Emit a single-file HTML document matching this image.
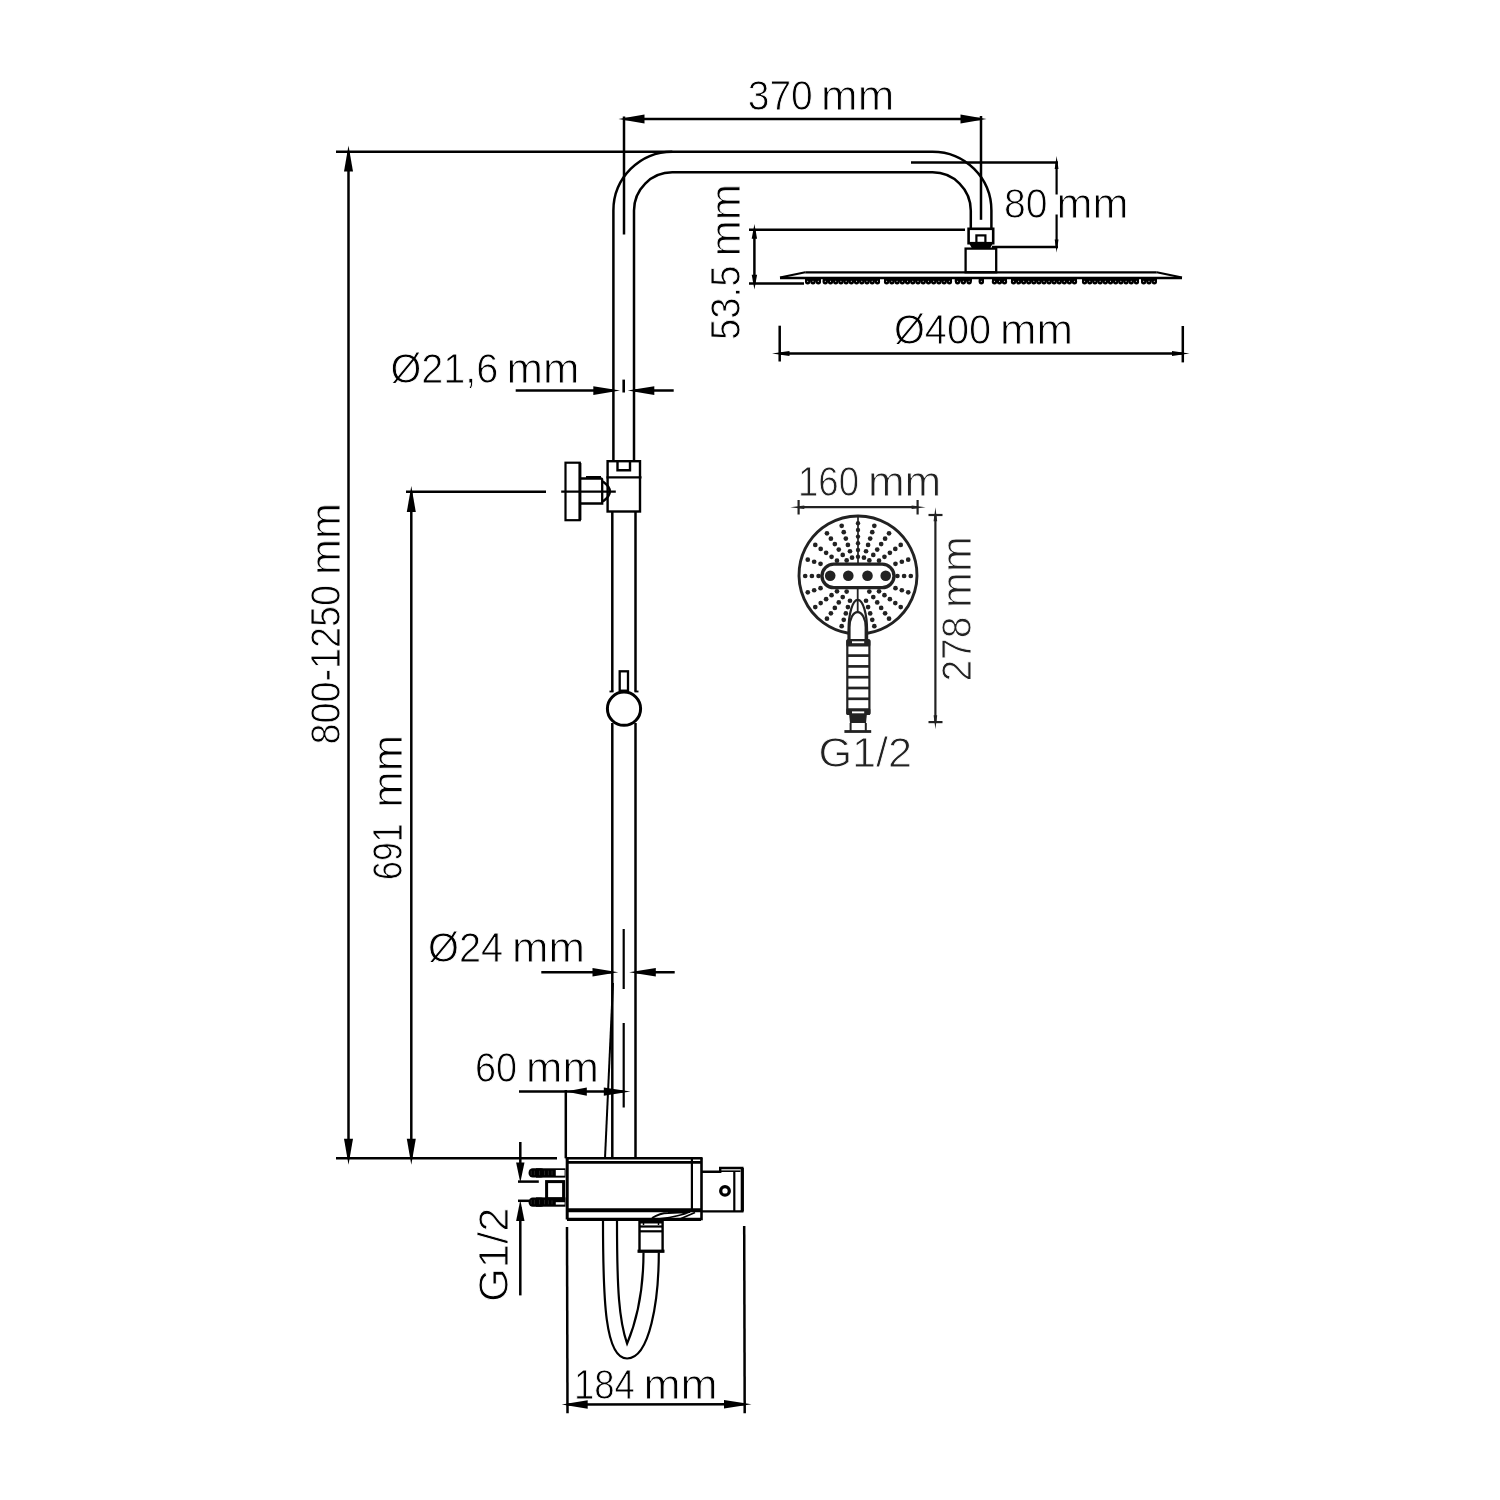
<!DOCTYPE html>
<html><head><meta charset="utf-8">
<style>
html,body{margin:0;padding:0;background:#fff;}
body{width:1500px;height:1500px;overflow:hidden;}
svg{display:block;filter:grayscale(1);}
text{font-family:"Liberation Sans",sans-serif;}
</style></head>
<body>
<svg width="1500" height="1500" viewBox="0 0 1500 1500">
<rect x="0" y="0" width="1500" height="1500" fill="#fff"/>
<line x1="336" y1="151.8" x2="672.3" y2="151.8" stroke="#000" stroke-width="2.5"/>
<line x1="348.5" y1="151.8" x2="348.5" y2="1158.3" stroke="#000" stroke-width="2.5"/>
<polygon points="348.5,145.5 344,171.5 353,171.5" fill="#000"/>
<polygon points="348.5,1164.7 344,1138.7 353,1138.7" fill="#000"/>
<line x1="336" y1="1158.3" x2="557" y2="1158.3" stroke="#000" stroke-width="2.5"/>
<line x1="406" y1="491.8" x2="546" y2="491.8" stroke="#000" stroke-width="2.5"/>
<line x1="411.3" y1="491.8" x2="411.3" y2="1158.3" stroke="#000" stroke-width="2.5"/>
<polygon points="411.3,486 406.8,512 415.8,512" fill="#000"/>
<polygon points="411.3,1164.7 406.8,1138.7 415.8,1138.7" fill="#000"/>
<path d="M 613.4 461 L 613.4 210.6 A 58.9 58.9 0 0 1 672.3 151.7 L 932.5 151.7 A 58.9 58.9 0 0 1 991.4 210.6 L 991.4 229" stroke="#000" stroke-width="2.5" fill="none" />
<path d="M 634 461 L 634 210.6 A 38.3 38.3 0 0 1 672.3 172.3 L 932.5 172.3 A 38.3 38.3 0 0 1 970.8 210.6 L 970.8 229" stroke="#000" stroke-width="2.5" fill="none" />
<line x1="624" y1="119" x2="981" y2="119" stroke="#000" stroke-width="2.5"/>
<polygon points="618.5,119 644.5,114.5 644.5,123.5" fill="#000"/>
<polygon points="986.5,119 960.5,114.5 960.5,123.5" fill="#000"/>
<line x1="624" y1="116.5" x2="624" y2="234.5" stroke="#000" stroke-width="2.5"/>
<line x1="981" y1="116" x2="981" y2="219.8" stroke="#000" stroke-width="2.5"/>
<line x1="911" y1="162.6" x2="1058" y2="162.6" stroke="#000" stroke-width="2.5"/>
<line x1="992" y1="247" x2="1058" y2="247" stroke="#000" stroke-width="2.5"/>
<line x1="1056.6" y1="162.6" x2="1056.6" y2="194.5" stroke="#000" stroke-width="2.2"/>
<line x1="1056.6" y1="214.5" x2="1056.6" y2="247" stroke="#000" stroke-width="2.2"/>
<polygon points="1056.6,156 1054.7,169 1058.5,169" fill="#000"/>
<polygon points="1056.6,252.5 1054.7,239.5 1058.5,239.5" fill="#000"/>
<rect x="968.6" y="228.8" width="24.6" height="14.4" rx="0" stroke="#000" stroke-width="2.6" fill="none"/>
<rect x="976.4" y="235.4" width="9" height="7.6" rx="0" stroke="#000" stroke-width="2.2" fill="none"/>
<polygon points="969,243 993,243 990,248.5 972,248.5" fill="#000"/>
<rect x="965.6" y="248.6" width="30.6" height="23.7" rx="0" stroke="#000" stroke-width="2.3" fill="none"/>
<line x1="805.3" y1="272.3" x2="1156.7" y2="272.3" stroke="#000" stroke-width="2.3"/>
<line x1="780" y1="278" x2="1182" y2="278" stroke="#000" stroke-width="2.6"/>
<line x1="805.3" y1="272.3" x2="780" y2="277.6" stroke="#000" stroke-width="2"/>
<line x1="1156.7" y1="272.3" x2="1182" y2="277.6" stroke="#000" stroke-width="2"/>
<rect x="805" y="277.6" width="16" height="4" rx="0" stroke="#000" stroke-width="0" fill="#000"/>
<circle cx="807.67" cy="281.8" r="2.7" fill="#000"/>
<circle cx="807.67" cy="281.3" r="0.55" fill="#fff"/>
<circle cx="813" cy="281.8" r="2.7" fill="#000"/>
<circle cx="813" cy="281.3" r="0.55" fill="#fff"/>
<circle cx="818.33" cy="281.8" r="2.7" fill="#000"/>
<circle cx="818.33" cy="281.3" r="0.55" fill="#fff"/>
<rect x="822.7" y="277.6" width="57.3" height="4" rx="0" stroke="#000" stroke-width="0" fill="#000"/>
<circle cx="825.3" cy="281.8" r="2.7" fill="#000"/>
<circle cx="825.3" cy="281.3" r="0.55" fill="#fff"/>
<circle cx="830.51" cy="281.8" r="2.7" fill="#000"/>
<circle cx="830.51" cy="281.3" r="0.55" fill="#fff"/>
<circle cx="835.72" cy="281.8" r="2.7" fill="#000"/>
<circle cx="835.72" cy="281.3" r="0.55" fill="#fff"/>
<circle cx="840.93" cy="281.8" r="2.7" fill="#000"/>
<circle cx="840.93" cy="281.3" r="0.55" fill="#fff"/>
<circle cx="846.14" cy="281.8" r="2.7" fill="#000"/>
<circle cx="846.14" cy="281.3" r="0.55" fill="#fff"/>
<circle cx="851.35" cy="281.8" r="2.7" fill="#000"/>
<circle cx="851.35" cy="281.3" r="0.55" fill="#fff"/>
<circle cx="856.56" cy="281.8" r="2.7" fill="#000"/>
<circle cx="856.56" cy="281.3" r="0.55" fill="#fff"/>
<circle cx="861.77" cy="281.8" r="2.7" fill="#000"/>
<circle cx="861.77" cy="281.3" r="0.55" fill="#fff"/>
<circle cx="866.98" cy="281.8" r="2.7" fill="#000"/>
<circle cx="866.98" cy="281.3" r="0.55" fill="#fff"/>
<circle cx="872.19" cy="281.8" r="2.7" fill="#000"/>
<circle cx="872.19" cy="281.3" r="0.55" fill="#fff"/>
<circle cx="877.4" cy="281.8" r="2.7" fill="#000"/>
<circle cx="877.4" cy="281.3" r="0.55" fill="#fff"/>
<rect x="884" y="277.6" width="68" height="4" rx="0" stroke="#000" stroke-width="0" fill="#000"/>
<circle cx="886.62" cy="281.8" r="2.7" fill="#000"/>
<circle cx="886.62" cy="281.3" r="0.55" fill="#fff"/>
<circle cx="891.85" cy="281.8" r="2.7" fill="#000"/>
<circle cx="891.85" cy="281.3" r="0.55" fill="#fff"/>
<circle cx="897.08" cy="281.8" r="2.7" fill="#000"/>
<circle cx="897.08" cy="281.3" r="0.55" fill="#fff"/>
<circle cx="902.31" cy="281.8" r="2.7" fill="#000"/>
<circle cx="902.31" cy="281.3" r="0.55" fill="#fff"/>
<circle cx="907.54" cy="281.8" r="2.7" fill="#000"/>
<circle cx="907.54" cy="281.3" r="0.55" fill="#fff"/>
<circle cx="912.77" cy="281.8" r="2.7" fill="#000"/>
<circle cx="912.77" cy="281.3" r="0.55" fill="#fff"/>
<circle cx="918" cy="281.8" r="2.7" fill="#000"/>
<circle cx="918" cy="281.3" r="0.55" fill="#fff"/>
<circle cx="923.23" cy="281.8" r="2.7" fill="#000"/>
<circle cx="923.23" cy="281.3" r="0.55" fill="#fff"/>
<circle cx="928.46" cy="281.8" r="2.7" fill="#000"/>
<circle cx="928.46" cy="281.3" r="0.55" fill="#fff"/>
<circle cx="933.69" cy="281.8" r="2.7" fill="#000"/>
<circle cx="933.69" cy="281.3" r="0.55" fill="#fff"/>
<circle cx="938.92" cy="281.8" r="2.7" fill="#000"/>
<circle cx="938.92" cy="281.3" r="0.55" fill="#fff"/>
<circle cx="944.15" cy="281.8" r="2.7" fill="#000"/>
<circle cx="944.15" cy="281.3" r="0.55" fill="#fff"/>
<circle cx="949.38" cy="281.8" r="2.7" fill="#000"/>
<circle cx="949.38" cy="281.3" r="0.55" fill="#fff"/>
<rect x="954.7" y="277.6" width="17.3" height="4" rx="0" stroke="#000" stroke-width="0" fill="#000"/>
<circle cx="957.58" cy="281.8" r="2.7" fill="#000"/>
<circle cx="957.58" cy="281.3" r="0.55" fill="#fff"/>
<circle cx="963.35" cy="281.8" r="2.7" fill="#000"/>
<circle cx="963.35" cy="281.3" r="0.55" fill="#fff"/>
<circle cx="969.12" cy="281.8" r="2.7" fill="#000"/>
<circle cx="969.12" cy="281.3" r="0.55" fill="#fff"/>
<rect x="978.7" y="277.6" width="5.3" height="4" rx="0" stroke="#000" stroke-width="0" fill="#000"/>
<circle cx="981.35" cy="281.8" r="2.7" fill="#000"/>
<circle cx="981.35" cy="281.3" r="0.55" fill="#fff"/>
<rect x="992" y="277.6" width="15" height="4" rx="0" stroke="#000" stroke-width="0" fill="#000"/>
<circle cx="994.5" cy="281.8" r="2.7" fill="#000"/>
<circle cx="994.5" cy="281.3" r="0.55" fill="#fff"/>
<circle cx="999.5" cy="281.8" r="2.7" fill="#000"/>
<circle cx="999.5" cy="281.3" r="0.55" fill="#fff"/>
<circle cx="1004.5" cy="281.8" r="2.7" fill="#000"/>
<circle cx="1004.5" cy="281.3" r="0.55" fill="#fff"/>
<rect x="1011" y="277.6" width="66" height="4" rx="0" stroke="#000" stroke-width="0" fill="#000"/>
<circle cx="1013.54" cy="281.8" r="2.7" fill="#000"/>
<circle cx="1013.54" cy="281.3" r="0.55" fill="#fff"/>
<circle cx="1018.62" cy="281.8" r="2.7" fill="#000"/>
<circle cx="1018.62" cy="281.3" r="0.55" fill="#fff"/>
<circle cx="1023.69" cy="281.8" r="2.7" fill="#000"/>
<circle cx="1023.69" cy="281.3" r="0.55" fill="#fff"/>
<circle cx="1028.77" cy="281.8" r="2.7" fill="#000"/>
<circle cx="1028.77" cy="281.3" r="0.55" fill="#fff"/>
<circle cx="1033.85" cy="281.8" r="2.7" fill="#000"/>
<circle cx="1033.85" cy="281.3" r="0.55" fill="#fff"/>
<circle cx="1038.92" cy="281.8" r="2.7" fill="#000"/>
<circle cx="1038.92" cy="281.3" r="0.55" fill="#fff"/>
<circle cx="1044" cy="281.8" r="2.7" fill="#000"/>
<circle cx="1044" cy="281.3" r="0.55" fill="#fff"/>
<circle cx="1049.08" cy="281.8" r="2.7" fill="#000"/>
<circle cx="1049.08" cy="281.3" r="0.55" fill="#fff"/>
<circle cx="1054.15" cy="281.8" r="2.7" fill="#000"/>
<circle cx="1054.15" cy="281.3" r="0.55" fill="#fff"/>
<circle cx="1059.23" cy="281.8" r="2.7" fill="#000"/>
<circle cx="1059.23" cy="281.3" r="0.55" fill="#fff"/>
<circle cx="1064.31" cy="281.8" r="2.7" fill="#000"/>
<circle cx="1064.31" cy="281.3" r="0.55" fill="#fff"/>
<circle cx="1069.38" cy="281.8" r="2.7" fill="#000"/>
<circle cx="1069.38" cy="281.3" r="0.55" fill="#fff"/>
<circle cx="1074.46" cy="281.8" r="2.7" fill="#000"/>
<circle cx="1074.46" cy="281.3" r="0.55" fill="#fff"/>
<rect x="1082" y="277.6" width="57" height="4" rx="0" stroke="#000" stroke-width="0" fill="#000"/>
<circle cx="1084.59" cy="281.8" r="2.7" fill="#000"/>
<circle cx="1084.59" cy="281.3" r="0.55" fill="#fff"/>
<circle cx="1089.77" cy="281.8" r="2.7" fill="#000"/>
<circle cx="1089.77" cy="281.3" r="0.55" fill="#fff"/>
<circle cx="1094.95" cy="281.8" r="2.7" fill="#000"/>
<circle cx="1094.95" cy="281.3" r="0.55" fill="#fff"/>
<circle cx="1100.14" cy="281.8" r="2.7" fill="#000"/>
<circle cx="1100.14" cy="281.3" r="0.55" fill="#fff"/>
<circle cx="1105.32" cy="281.8" r="2.7" fill="#000"/>
<circle cx="1105.32" cy="281.3" r="0.55" fill="#fff"/>
<circle cx="1110.5" cy="281.8" r="2.7" fill="#000"/>
<circle cx="1110.5" cy="281.3" r="0.55" fill="#fff"/>
<circle cx="1115.68" cy="281.8" r="2.7" fill="#000"/>
<circle cx="1115.68" cy="281.3" r="0.55" fill="#fff"/>
<circle cx="1120.86" cy="281.8" r="2.7" fill="#000"/>
<circle cx="1120.86" cy="281.3" r="0.55" fill="#fff"/>
<circle cx="1126.05" cy="281.8" r="2.7" fill="#000"/>
<circle cx="1126.05" cy="281.3" r="0.55" fill="#fff"/>
<circle cx="1131.23" cy="281.8" r="2.7" fill="#000"/>
<circle cx="1131.23" cy="281.3" r="0.55" fill="#fff"/>
<circle cx="1136.41" cy="281.8" r="2.7" fill="#000"/>
<circle cx="1136.41" cy="281.3" r="0.55" fill="#fff"/>
<rect x="1141" y="277.6" width="16" height="4" rx="0" stroke="#000" stroke-width="0" fill="#000"/>
<circle cx="1143.67" cy="281.8" r="2.7" fill="#000"/>
<circle cx="1143.67" cy="281.3" r="0.55" fill="#fff"/>
<circle cx="1149" cy="281.8" r="2.7" fill="#000"/>
<circle cx="1149" cy="281.3" r="0.55" fill="#fff"/>
<circle cx="1154.33" cy="281.8" r="2.7" fill="#000"/>
<circle cx="1154.33" cy="281.3" r="0.55" fill="#fff"/>
<line x1="749" y1="229.7" x2="965" y2="229.7" stroke="#000" stroke-width="2.5"/>
<line x1="749" y1="283.6" x2="804" y2="283.6" stroke="#000" stroke-width="2.5"/>
<line x1="754.4" y1="229.7" x2="754.4" y2="283.6" stroke="#000" stroke-width="2.5"/>
<polygon points="754.4,224 751.7,238.8 757.1,238.8" fill="#000"/>
<polygon points="754.4,289.5 751.7,274.7 757.1,274.7" fill="#000"/>
<line x1="779.7" y1="325.7" x2="779.7" y2="361.5" stroke="#000" stroke-width="2.5"/>
<line x1="1182.8" y1="326" x2="1182.8" y2="362.4" stroke="#000" stroke-width="2.5"/>
<line x1="779.7" y1="353.4" x2="1182.8" y2="353.4" stroke="#000" stroke-width="2.5"/>
<polygon points="772,353.4 789.5,350.9 789.5,355.9" fill="#000"/>
<polygon points="1189.5,353.4 1172,350.9 1172,355.9" fill="#000"/>
<rect x="607.6" y="461.2" width="32.4" height="50.3" rx="0" stroke="#000" stroke-width="2.4" fill="none"/>
<line x1="606.5" y1="477.4" x2="641.5" y2="477.4" stroke="#000" stroke-width="2.4"/>
<path d="M 617.5 461.5 L 617.5 470.3 L 630 470.3 L 630 461.5" stroke="#000" stroke-width="2.4" fill="none" />
<rect x="565.5" y="462.7" width="14.3" height="57.5" rx="0" stroke="#000" stroke-width="2.2" fill="none"/>
<path d="M 580.7 478.5 L 600.8 478.5 Q 602.2 478.5 602.2 480 L 602.2 503.5 L 580.7 503.5" stroke="#000" stroke-width="2.3" fill="none" />
<line x1="586" y1="477.3" x2="601" y2="477.3" stroke="#000" stroke-width="2.6"/>
<line x1="580" y1="463" x2="580" y2="520" stroke="#000" stroke-width="2.8"/>
<path d="M 602.8 481.6 Q 617 491.6 602.8 501.5" stroke="#000" stroke-width="2.4" fill="none" />
<line x1="561.2" y1="491.6" x2="615.8" y2="491.6" stroke="#000" stroke-width="2.2"/>
<line x1="612.3" y1="511.5" x2="612.3" y2="691.5" stroke="#000" stroke-width="2.5"/>
<line x1="635.5" y1="511.5" x2="635.5" y2="691.5" stroke="#000" stroke-width="2.5"/>
<line x1="612.3" y1="723" x2="612.3" y2="1158.3" stroke="#000" stroke-width="2.5"/>
<line x1="635.5" y1="723" x2="635.5" y2="1158.3" stroke="#000" stroke-width="2.5"/>
<circle cx="624" cy="708.7" r="16.6" stroke="#000" stroke-width="3" fill="#fff"/>
<rect x="619.7" y="671.3" width="8.3" height="19.4" rx="0" stroke="#000" stroke-width="2.3" fill="none"/>
<line x1="609.5" y1="691.5" x2="613.5" y2="691.5" stroke="#000" stroke-width="1.8"/>
<line x1="634.5" y1="691.5" x2="638.5" y2="691.5" stroke="#000" stroke-width="1.8"/>
<line x1="515.7" y1="390.6" x2="613.4" y2="390.6" stroke="#000" stroke-width="2.5"/>
<polygon points="620,390.6 593.3,386.25 593.3,394.95" fill="#000"/>
<line x1="634.4" y1="390.6" x2="673.7" y2="390.6" stroke="#000" stroke-width="2.5"/>
<polygon points="627.7,390.6 654.3,386.25 654.3,394.95" fill="#000"/>
<line x1="623.7" y1="379.6" x2="623.7" y2="392.5" stroke="#000" stroke-width="2.6"/>
<line x1="541.3" y1="972.3" x2="612.5" y2="972.3" stroke="#000" stroke-width="2.5"/>
<polygon points="618.3,972.3 592.5,968.1 592.5,976.5" fill="#000"/>
<line x1="635.3" y1="972.3" x2="674.7" y2="972.3" stroke="#000" stroke-width="2.5"/>
<polygon points="629.2,972.3 655.8,968.1 655.8,976.5" fill="#000"/>
<line x1="623.7" y1="929" x2="623.7" y2="989" stroke="#000" stroke-width="2.2"/>
<line x1="623.7" y1="1023" x2="623.7" y2="1107.5" stroke="#000" stroke-width="2.2"/>
<line x1="613" y1="983" x2="605" y2="1158.3" stroke="#000" stroke-width="2"/>
<line x1="519" y1="1091.6" x2="623.7" y2="1091.6" stroke="#000" stroke-width="2.5"/>
<polygon points="565.8,1091.6 586.8,1087.4 586.8,1095.8" fill="#000"/>
<polygon points="630.4,1091.6 603.8,1087.4 603.8,1095.8" fill="#000"/>
<line x1="565.8" y1="1090" x2="565.8" y2="1158.3" stroke="#000" stroke-width="2.5"/>
<line x1="565.8" y1="1158.3" x2="702.3" y2="1158.3" stroke="#000" stroke-width="2.4"/>
<line x1="566" y1="1162.4" x2="701" y2="1162.4" stroke="#000" stroke-width="2.6"/>
<line x1="567.2" y1="1158" x2="567.2" y2="1219.5" stroke="#000" stroke-width="3"/>
<line x1="701.5" y1="1157.5" x2="701.5" y2="1220.3" stroke="#000" stroke-width="2.6"/>
<line x1="691.9" y1="1158.5" x2="691.9" y2="1209" stroke="#000" stroke-width="2.2"/>
<line x1="567" y1="1210.3" x2="701" y2="1210.3" stroke="#000" stroke-width="4"/>
<line x1="567" y1="1219.3" x2="701" y2="1219.3" stroke="#000" stroke-width="3.2"/>
<path d="M 652 1218 Q 660 1213 668 1213 L 690 1212 Q 680 1216 660 1219" stroke="#000" stroke-width="1.8" fill="none" />
<path d="M 680 1219 L 695 1212.5" stroke="#000" stroke-width="1.8" fill="none" />
<path d="M 701.5 1171.7 L 720.2 1171.7 L 720.2 1168 L 742.3 1168 L 742.3 1211.4 L 701.5 1211.4" stroke="#000" stroke-width="2.4" fill="none" />
<line x1="742.3" y1="1168" x2="742.3" y2="1211.4" stroke="#000" stroke-width="3.2"/>
<line x1="734.3" y1="1172" x2="734.3" y2="1211" stroke="#000" stroke-width="2.2"/>
<line x1="721" y1="1171.2" x2="740.5" y2="1171.2" stroke="#000" stroke-width="1.6"/>
<circle cx="725" cy="1190.9" r="4.3" stroke="#000" stroke-width="3.3" fill="none"/>
<rect x="528.6" y="1168.3" width="16.4" height="9.3" rx="4.2" stroke="#000" stroke-width="0" fill="#000"/>
<rect x="536" y="1168.3" width="29.5" height="9.3" rx="0" stroke="#000" stroke-width="0" fill="#000"/>
<rect x="555.8" y="1170" width="8.8" height="5.7" rx="0" stroke="#000" stroke-width="0" fill="#fff"/>
<line x1="531.2" y1="1170.7" x2="531.2" y2="1175.2" stroke="#3a3a3a" stroke-width="0.6"/>
<line x1="534.4" y1="1170.7" x2="534.4" y2="1175.2" stroke="#3a3a3a" stroke-width="0.6"/>
<line x1="539.5" y1="1170.7" x2="539.5" y2="1175.2" stroke="#3a3a3a" stroke-width="0.6"/>
<line x1="544.5" y1="1170.7" x2="544.5" y2="1175.2" stroke="#3a3a3a" stroke-width="0.6"/>
<line x1="548.4" y1="1170.7" x2="548.4" y2="1175.2" stroke="#3a3a3a" stroke-width="0.6"/>
<line x1="552" y1="1170.7" x2="552" y2="1175.2" stroke="#3a3a3a" stroke-width="0.6"/>
<rect x="528.6" y="1197.4" width="16.4" height="9.3" rx="4.2" stroke="#000" stroke-width="0" fill="#000"/>
<rect x="536" y="1197.4" width="29.5" height="9.3" rx="0" stroke="#000" stroke-width="0" fill="#000"/>
<rect x="555.8" y="1202.2" width="8.8" height="2.4" rx="0" stroke="#000" stroke-width="0" fill="#fff"/>
<line x1="531.2" y1="1199.8" x2="531.2" y2="1204.3" stroke="#3a3a3a" stroke-width="0.6"/>
<line x1="534.4" y1="1199.8" x2="534.4" y2="1204.3" stroke="#3a3a3a" stroke-width="0.6"/>
<line x1="539.5" y1="1199.8" x2="539.5" y2="1204.3" stroke="#3a3a3a" stroke-width="0.6"/>
<line x1="544.5" y1="1199.8" x2="544.5" y2="1204.3" stroke="#3a3a3a" stroke-width="0.6"/>
<line x1="548.4" y1="1199.8" x2="548.4" y2="1204.3" stroke="#3a3a3a" stroke-width="0.6"/>
<line x1="552" y1="1199.8" x2="552" y2="1204.3" stroke="#3a3a3a" stroke-width="0.6"/>
<rect x="546.6" y="1181.6" width="17" height="17.2" rx="0" stroke="#000" stroke-width="3" fill="none"/>
<line x1="564" y1="1181" x2="564" y2="1200" stroke="#000" stroke-width="1.2"/>
<rect x="639.5" y="1221.5" width="23.1" height="29.7" rx="0" stroke="#000" stroke-width="2.4" fill="none"/>
<line x1="639.5" y1="1222.6" x2="662.6" y2="1222.6" stroke="#000" stroke-width="1.8"/>
<line x1="639.5" y1="1226.5" x2="662.6" y2="1226.5" stroke="#000" stroke-width="2.2"/>
<line x1="639.5" y1="1231.3" x2="662.6" y2="1231.3" stroke="#000" stroke-width="2.2"/>
<line x1="637.5" y1="1251.2" x2="664.5" y2="1251.2" stroke="#000" stroke-width="3.2"/>
<line x1="643.5" y1="1221" x2="643.5" y2="1225" stroke="#000" stroke-width="1.5"/>
<line x1="658.5" y1="1221" x2="658.5" y2="1225" stroke="#000" stroke-width="1.5"/>
<path d="M 603 1221 C 603 1300 605 1358.5 627.1 1358.5 C 650 1358.5 658.8 1300 658.8 1252.5" stroke="#000" stroke-width="2.2" fill="none" />
<path d="M 617 1221 C 617 1290 619 1320 627.1 1343.6 C 637 1320 643.5 1290 643.5 1252.5" stroke="#000" stroke-width="2.2" fill="none" />
<line x1="567" y1="1227" x2="567.5" y2="1413.3" stroke="#000" stroke-width="2.5"/>
<line x1="744.2" y1="1226" x2="744.7" y2="1413.3" stroke="#000" stroke-width="2.5"/>
<line x1="567.3" y1="1404.5" x2="744.6" y2="1404.3" stroke="#000" stroke-width="2.5"/>
<polygon points="561.7,1404.5 587.7,1400.2 587.7,1408.8" fill="#000"/>
<polygon points="751.5,1404.3 724,1400 724,1408.6" fill="#000"/>
<line x1="520.3" y1="1142" x2="520.3" y2="1175" stroke="#000" stroke-width="2.5"/>
<polygon points="520.3,1182.5 516.1,1162.5 524.5,1162.5" fill="#000"/>
<line x1="520.3" y1="1207" x2="520.3" y2="1295.4" stroke="#000" stroke-width="2.5"/>
<polygon points="520.3,1200 516.1,1221 524.5,1221" fill="#000"/>
<line x1="518" y1="1181.6" x2="538.8" y2="1181.6" stroke="#000" stroke-width="2.5"/>
<line x1="518" y1="1200.8" x2="529" y2="1200.8" stroke="#000" stroke-width="2.5"/>
<line x1="798.6" y1="507.2" x2="917.6" y2="507.2" stroke="#222" stroke-width="2.2"/>
<line x1="798.6" y1="500" x2="798.6" y2="514.5" stroke="#222" stroke-width="2.2"/>
<line x1="917.6" y1="500" x2="917.6" y2="514.5" stroke="#222" stroke-width="2.2"/>
<polygon points="790.3,507.2 804.3,505.4 804.3,509" fill="#222"/>
<polygon points="925.6,507.2 911.6,505.4 911.6,509" fill="#222"/>
<line x1="935.4" y1="515" x2="935.4" y2="722.1" stroke="#222" stroke-width="2.2"/>
<line x1="928.5" y1="515" x2="942.5" y2="515" stroke="#222" stroke-width="2.2"/>
<line x1="928.5" y1="722.1" x2="942.5" y2="722.1" stroke="#222" stroke-width="2.2"/>
<polygon points="935.4,507.3 933.6,521.3 937.2,521.3" fill="#222"/>
<polygon points="935.4,729.2 933.6,715.2 937.2,715.2" fill="#222"/>
<circle cx="863.96" cy="557.64" r="2.35" fill="#222"/>
<circle cx="866.03" cy="551.27" r="2.35" fill="#222"/>
<circle cx="868.1" cy="544.9" r="2.35" fill="#222"/>
<circle cx="870.18" cy="538.53" r="2.35" fill="#222"/>
<circle cx="872.25" cy="532.16" r="2.35" fill="#222"/>
<circle cx="874.32" cy="525.78" r="2.35" fill="#222"/>
<circle cx="869.34" cy="560.39" r="2.35" fill="#222"/>
<circle cx="873.28" cy="554.97" r="2.35" fill="#222"/>
<circle cx="877.22" cy="549.55" r="2.35" fill="#222"/>
<circle cx="881.16" cy="544.12" r="2.35" fill="#222"/>
<circle cx="885.1" cy="538.7" r="2.35" fill="#222"/>
<circle cx="889.04" cy="533.28" r="2.35" fill="#222"/>
<circle cx="879.03" cy="560.72" r="2.35" fill="#222"/>
<circle cx="884.45" cy="556.78" r="2.35" fill="#222"/>
<circle cx="889.88" cy="552.84" r="2.35" fill="#222"/>
<circle cx="895.3" cy="548.9" r="2.35" fill="#222"/>
<circle cx="900.72" cy="544.96" r="2.35" fill="#222"/>
<circle cx="895.47" cy="563.82" r="2.35" fill="#222"/>
<circle cx="901.84" cy="561.75" r="2.35" fill="#222"/>
<circle cx="908.22" cy="559.68" r="2.35" fill="#222"/>
<circle cx="897.4" cy="576" r="2.35" fill="#222"/>
<circle cx="904.1" cy="576" r="2.35" fill="#222"/>
<circle cx="910.8" cy="576" r="2.35" fill="#222"/>
<circle cx="895.47" cy="588.18" r="2.35" fill="#222"/>
<circle cx="901.84" cy="590.25" r="2.35" fill="#222"/>
<circle cx="908.22" cy="592.32" r="2.35" fill="#222"/>
<circle cx="879.03" cy="591.28" r="2.35" fill="#222"/>
<circle cx="884.45" cy="595.22" r="2.35" fill="#222"/>
<circle cx="889.88" cy="599.16" r="2.35" fill="#222"/>
<circle cx="895.3" cy="603.1" r="2.35" fill="#222"/>
<circle cx="900.72" cy="607.04" r="2.35" fill="#222"/>
<circle cx="869.34" cy="591.61" r="2.35" fill="#222"/>
<circle cx="873.28" cy="597.03" r="2.35" fill="#222"/>
<circle cx="877.22" cy="602.45" r="2.35" fill="#222"/>
<circle cx="881.16" cy="607.88" r="2.35" fill="#222"/>
<circle cx="885.1" cy="613.3" r="2.35" fill="#222"/>
<circle cx="889.04" cy="618.72" r="2.35" fill="#222"/>
<circle cx="866.03" cy="600.73" r="2.35" fill="#222"/>
<circle cx="868.1" cy="607.1" r="2.35" fill="#222"/>
<circle cx="870.18" cy="613.47" r="2.35" fill="#222"/>
<circle cx="872.25" cy="619.84" r="2.35" fill="#222"/>
<circle cx="874.32" cy="626.22" r="2.35" fill="#222"/>
<circle cx="849.97" cy="600.73" r="2.35" fill="#222"/>
<circle cx="847.9" cy="607.1" r="2.35" fill="#222"/>
<circle cx="845.82" cy="613.47" r="2.35" fill="#222"/>
<circle cx="843.75" cy="619.84" r="2.35" fill="#222"/>
<circle cx="841.68" cy="626.22" r="2.35" fill="#222"/>
<circle cx="846.66" cy="591.61" r="2.35" fill="#222"/>
<circle cx="842.72" cy="597.03" r="2.35" fill="#222"/>
<circle cx="838.78" cy="602.45" r="2.35" fill="#222"/>
<circle cx="834.84" cy="607.88" r="2.35" fill="#222"/>
<circle cx="830.9" cy="613.3" r="2.35" fill="#222"/>
<circle cx="826.96" cy="618.72" r="2.35" fill="#222"/>
<circle cx="836.97" cy="591.28" r="2.35" fill="#222"/>
<circle cx="831.55" cy="595.22" r="2.35" fill="#222"/>
<circle cx="826.12" cy="599.16" r="2.35" fill="#222"/>
<circle cx="820.7" cy="603.1" r="2.35" fill="#222"/>
<circle cx="815.28" cy="607.04" r="2.35" fill="#222"/>
<circle cx="820.53" cy="588.18" r="2.35" fill="#222"/>
<circle cx="814.16" cy="590.25" r="2.35" fill="#222"/>
<circle cx="807.78" cy="592.32" r="2.35" fill="#222"/>
<circle cx="818.6" cy="576" r="2.35" fill="#222"/>
<circle cx="811.9" cy="576" r="2.35" fill="#222"/>
<circle cx="805.2" cy="576" r="2.35" fill="#222"/>
<circle cx="820.53" cy="563.82" r="2.35" fill="#222"/>
<circle cx="814.16" cy="561.75" r="2.35" fill="#222"/>
<circle cx="807.78" cy="559.68" r="2.35" fill="#222"/>
<circle cx="836.97" cy="560.72" r="2.35" fill="#222"/>
<circle cx="831.55" cy="556.78" r="2.35" fill="#222"/>
<circle cx="826.12" cy="552.84" r="2.35" fill="#222"/>
<circle cx="820.7" cy="548.9" r="2.35" fill="#222"/>
<circle cx="815.28" cy="544.96" r="2.35" fill="#222"/>
<circle cx="846.66" cy="560.39" r="2.35" fill="#222"/>
<circle cx="842.72" cy="554.97" r="2.35" fill="#222"/>
<circle cx="838.78" cy="549.55" r="2.35" fill="#222"/>
<circle cx="834.84" cy="544.12" r="2.35" fill="#222"/>
<circle cx="830.9" cy="538.7" r="2.35" fill="#222"/>
<circle cx="826.96" cy="533.28" r="2.35" fill="#222"/>
<circle cx="852.04" cy="557.64" r="2.35" fill="#222"/>
<circle cx="849.97" cy="551.27" r="2.35" fill="#222"/>
<circle cx="847.9" cy="544.9" r="2.35" fill="#222"/>
<circle cx="845.82" cy="538.53" r="2.35" fill="#222"/>
<circle cx="843.75" cy="532.16" r="2.35" fill="#222"/>
<circle cx="841.68" cy="525.78" r="2.35" fill="#222"/>
<line x1="858" y1="517" x2="858" y2="563" stroke="#222" stroke-width="1.7"/>
<circle cx="858" cy="556.7" r="2.2" fill="#222"/>
<circle cx="858" cy="550" r="2.2" fill="#222"/>
<circle cx="858" cy="543.3" r="2.2" fill="#222"/>
<circle cx="858" cy="536.6" r="2.2" fill="#222"/>
<circle cx="858" cy="529.9" r="2.2" fill="#222"/>
<circle cx="858" cy="523.2" r="2.2" fill="#222"/>
<path d="M 848.6 633.25 A 59 59 0 1 1 867.4 633.25" stroke="#222" stroke-width="2.9" fill="none" />
<rect x="822" y="564.1" width="72" height="23.6" rx="11.8" stroke="#222" stroke-width="3.3" fill="#fff"/>
<circle cx="830.2" cy="575.8" r="5.3" fill="#222"/>
<circle cx="848.3" cy="575.8" r="5.3" fill="#222"/>
<circle cx="867.5" cy="575.8" r="5.3" fill="#222"/>
<circle cx="885.7" cy="575.8" r="5.3" fill="#222"/>
<path d="M 848.5 639.5 L 848.5 630.8 A 9.3 31 0 0 1 867.1 630.8 L 867.1 639.5" stroke="#222" stroke-width="2.2" fill="#fff" />
<path d="M 849.5 639.5 L 849.5 627.2 A 8.1 15 0 0 1 865.7 627.2 L 865.7 639.5" stroke="#222" stroke-width="2.2" fill="none" />
<line x1="857.7" y1="588" x2="857.7" y2="612.2" stroke="#222" stroke-width="1.8"/>
<rect x="847.3" y="640.2" width="22.1" height="73.8" rx="1.5" stroke="#222" stroke-width="2.2" fill="#fff"/>
<rect x="846.3" y="639.2" width="24.1" height="7.2" rx="1.5" stroke="#222" stroke-width="0" fill="#222"/>
<rect x="852" y="641.3" width="12.2" height="1.9" rx="0" stroke="#222" stroke-width="0" fill="#fff"/>
<line x1="847.2" y1="655.6" x2="869.4" y2="655.6" stroke="#222" stroke-width="2.7"/>
<line x1="847.2" y1="666.4" x2="869.4" y2="666.4" stroke="#222" stroke-width="2.7"/>
<line x1="847.2" y1="677.2" x2="869.4" y2="677.2" stroke="#222" stroke-width="2.7"/>
<line x1="847.2" y1="688" x2="869.4" y2="688" stroke="#222" stroke-width="2.7"/>
<line x1="847.2" y1="698.8" x2="869.4" y2="698.8" stroke="#222" stroke-width="2.7"/>
<rect x="846.3" y="708.2" width="24.1" height="6.8" rx="1.5" stroke="#222" stroke-width="0" fill="#222"/>
<rect x="852" y="711.4" width="12.2" height="1.9" rx="0" stroke="#222" stroke-width="0" fill="#fff"/>
<polygon points="849.2,715 866.8,715 866,723 850,723" fill="#222"/>
<path d="M 850.6 723 L 850.6 731 M 865.8 723 L 865.8 731" stroke="#222" stroke-width="2" fill="none" />
<line x1="844.4" y1="731.5" x2="871.2" y2="731.5" stroke="#222" stroke-width="2.8"/>
<text x="747.7" y="110.4" font-size="42" fill="#000" stroke="#fff" stroke-width="0.9" textLength="65.1" lengthAdjust="spacingAndGlyphs">370</text>
<text x="821.1" y="110.4" font-size="42" fill="#000" stroke="#fff" stroke-width="0.9" textLength="73.1" lengthAdjust="spacingAndGlyphs">mm</text>
<text x="1004" y="218.4" font-size="42" fill="#000" stroke="#fff" stroke-width="0.9" textLength="43.5" lengthAdjust="spacingAndGlyphs">80</text>
<text x="1056.5" y="218.4" font-size="42" fill="#000" stroke="#fff" stroke-width="0.9" textLength="72" lengthAdjust="spacingAndGlyphs">mm</text>
<text x="893.9" y="344.4" font-size="42" fill="#000" stroke="#fff" stroke-width="0.9" textLength="97.2" lengthAdjust="spacingAndGlyphs">Ø400</text>
<text x="1000.1" y="344.4" font-size="42" fill="#000" stroke="#fff" stroke-width="0.9" textLength="73" lengthAdjust="spacingAndGlyphs">mm</text>
<text x="390.4" y="382.5" font-size="42" fill="#000" stroke="#fff" stroke-width="0.9" textLength="107.9" lengthAdjust="spacingAndGlyphs">Ø21,6</text>
<text x="506.6" y="382.5" font-size="42" fill="#000" stroke="#fff" stroke-width="0.9" textLength="72.9" lengthAdjust="spacingAndGlyphs">mm</text>
<text x="428" y="962.4" font-size="42" fill="#000" stroke="#fff" stroke-width="0.9" textLength="75.1" lengthAdjust="spacingAndGlyphs">Ø24</text>
<text x="512.1" y="962.4" font-size="42" fill="#000" stroke="#fff" stroke-width="0.9" textLength="72.9" lengthAdjust="spacingAndGlyphs">mm</text>
<text x="475" y="1081.7" font-size="42" fill="#000" stroke="#fff" stroke-width="0.9" textLength="42.1" lengthAdjust="spacingAndGlyphs">60</text>
<text x="526.1" y="1081.7" font-size="42" fill="#000" stroke="#fff" stroke-width="0.9" textLength="72.8" lengthAdjust="spacingAndGlyphs">mm</text>
<text x="574" y="1399.3" font-size="42" fill="#000" stroke="#fff" stroke-width="0.9" textLength="60.9" lengthAdjust="spacingAndGlyphs">184</text>
<text x="643.4" y="1399.3" font-size="42" fill="#000" stroke="#fff" stroke-width="0.9" textLength="74.2" lengthAdjust="spacingAndGlyphs">mm</text>
<text x="798" y="496.3" font-size="42" fill="#222" stroke="#fff" stroke-width="0.9" textLength="61" lengthAdjust="spacingAndGlyphs">160</text>
<text x="867.9" y="496.3" font-size="42" fill="#222" stroke="#fff" stroke-width="0.9" textLength="73.4" lengthAdjust="spacingAndGlyphs">mm</text>
<text x="818.4" y="767.4" font-size="42" fill="#222" stroke="#fff" stroke-width="0.9" textLength="93.6" lengthAdjust="spacingAndGlyphs">G1/2</text>
<text transform="translate(740 340.1) rotate(-90)" x="0" y="0" font-size="42" fill="#000" stroke="#fff" stroke-width="0.9" textLength="74.6" lengthAdjust="spacingAndGlyphs">53.5</text>
<text transform="translate(740 256.4) rotate(-90)" x="0" y="0" font-size="42" fill="#000" stroke="#fff" stroke-width="0.9" textLength="72.5" lengthAdjust="spacingAndGlyphs">mm</text>
<text transform="translate(339.7 744.5) rotate(-90)" x="0" y="0" font-size="42" fill="#000" stroke="#fff" stroke-width="0.9" textLength="159.6" lengthAdjust="spacingAndGlyphs">800-1250</text>
<text transform="translate(339.7 574.9) rotate(-90)" x="0" y="0" font-size="42" fill="#000" stroke="#fff" stroke-width="0.9" textLength="72" lengthAdjust="spacingAndGlyphs">mm</text>
<text transform="translate(402.4 879.9) rotate(-90)" x="0" y="0" font-size="42" fill="#000" stroke="#fff" stroke-width="0.9" textLength="56.4" lengthAdjust="spacingAndGlyphs">691</text>
<text transform="translate(402.4 807.7) rotate(-90)" x="0" y="0" font-size="42" fill="#000" stroke="#fff" stroke-width="0.9" textLength="72.7" lengthAdjust="spacingAndGlyphs">mm</text>
<text transform="translate(508.1 1302) rotate(-90)" x="0" y="0" font-size="42" fill="#000" stroke="#fff" stroke-width="0.9" textLength="94.4" lengthAdjust="spacingAndGlyphs">G1/2</text>
<text transform="translate(970.9 681.6) rotate(-90)" x="0" y="0" font-size="42" fill="#222" stroke="#fff" stroke-width="0.9" textLength="65.1" lengthAdjust="spacingAndGlyphs">278</text>
<text transform="translate(970.9 607.9) rotate(-90)" x="0" y="0" font-size="42" fill="#222" stroke="#fff" stroke-width="0.9" textLength="71.7" lengthAdjust="spacingAndGlyphs">mm</text>
</svg>
</body></html>
